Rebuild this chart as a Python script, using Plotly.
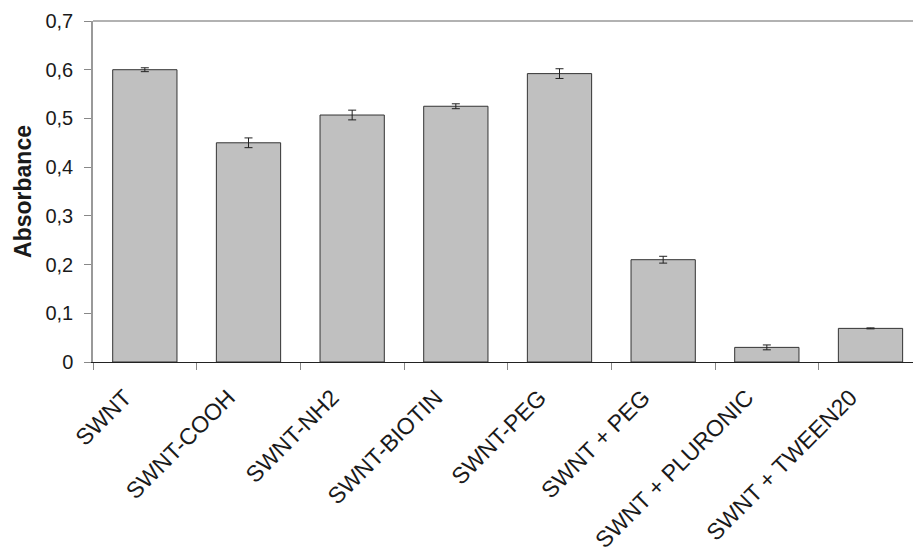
import plotly.graph_objects as go

categories = ["SWNT", "SWNT-COOH", "SWNT-NH2", "SWNT-BIOTIN", "SWNT-PEG",
              "SWNT + PEG", "SWNT + PLURONIC", "SWNT + TWEEN20"]
absorbance = [0.600, 0.450, 0.507, 0.525, 0.592, 0.210, 0.030, 0.069]
errors = [0.004, 0.010, 0.010, 0.005, 0.010, 0.007, 0.005, 0.001]

fig = go.Figure(go.Bar(
    x=categories, y=absorbance,
    marker=dict(color="#C0C0C0", line=dict(color="#333333", width=1)),
    error_y=dict(type="data", array=errors, color="#222222", thickness=1, width=4),
    width=0.62,
))

fig.add_shape(type="line", xref="paper", yref="paper", x0=0, x1=1, y0=1, y1=1,
              line=dict(color="#999999", width=1.5))

fig.update_layout(
    width=913, height=552,
    margin=dict(l=93, r=0, t=21, b=190),
    plot_bgcolor="white", paper_bgcolor="white",
    separators=", ",
    font=dict(family="Liberation Sans, Arial, sans-serif", color="#1a1a1a"),
    showlegend=False,
    xaxis=dict(
        range=[-0.5, 7.41], tickangle=-45, tickson="boundaries",
        ticks="outside", ticklen=7, tickcolor="#888888",
        showline=True, linecolor="#222222", linewidth=1,
        tickfont=dict(size=23), showgrid=False, automargin=False,
        ticklabelshift=-20, ticklabelstandoff=12,
    ),
    yaxis=dict(
        range=[0, 0.7], dtick=0.1, ticks="outside", ticklen=7, tickcolor="#888888",
        showline=True, linecolor="#999999", linewidth=1.5,
        tickfont=dict(size=20), showgrid=False, zeroline=False, automargin=False,
        ticklabelstandoff=7,
        title=dict(text="<b>Absorbance</b>", font=dict(size=23), standoff=7),
    ),
)

fig.write_html("out.html", config={"displayModeBar": False},
               post_script="document.body.style.margin='0';document.body.style.overflow='hidden';")
